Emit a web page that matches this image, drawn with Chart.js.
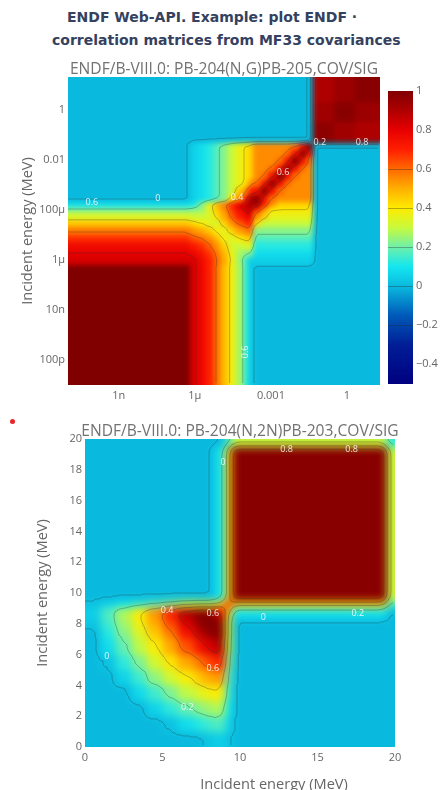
<!DOCTYPE html>
<html lang="en">
<head>
<meta charset="UTF-8">
<title>ENDF Web-API correlation matrices</title>
<style>
  body { margin: 0; background: #fff; font-family: "Open Sans", sans-serif; }
  .page { position: relative; width: 444px; height: 790px; overflow: hidden; }
  .head { position: absolute; font-family: "DejaVu Sans", sans-serif; font-weight: bold; font-size: 14px; line-height: 18px; color: #34415f; white-space: nowrap; }
  .sub { position: absolute; font-size: 15.6px; line-height: 18px; color: #727272; white-space: nowrap; text-align: center; width: 360px; }
  .axt { position: absolute; font-size: 14.6px; line-height: 18px; color: #666; white-space: nowrap; text-align: center; }
  canvas { position: absolute; left: 0; }
  .dot { position: absolute; left: 10px; top: 419px; width: 5px; height: 5px; border-radius: 50%; background: #e8262a; }
</style>
</head>
<body>
<div class="page">
  <div class="head" style="left:67px; top:8px">ENDF Web-API. Example: plot ENDF ·</div>
  <div class="head" style="left:52px; top:31px">correlation matrices from MF33 covariances</div>
  <canvas id="ng" width="444" height="365" style="top:55px"></canvas>
  <canvas id="n2n" width="444" height="370" style="top:420px"></canvas>
  <div class="sub" style="left:44px; top:59px">ENDF/B-VIII.0: PB-204(N,G)PB-205,COV/SIG</div>
  <div class="sub" style="left:60px; top:421px">ENDF/B-VIII.0: PB-204(N,2N)PB-203,COV/SIG</div>
  <div class="axt" style="left:174px; width:200px; top:774px">Incident energy (MeV)</div>
  <div class="dot"></div>
</div>

<script src="https://cdn.jsdelivr.net/npm/chart.js"></script>
<script>
// ---- PB-204(N,G): group boundaries (MeV) and correlation matrix (row = y group, col = x group)
const ngEdges = [1e-11, 1e-10, 1e-9, 1e-8, 4e-8, 1e-7, 2.5e-7, 6.3e-7, 1.26e-6, 2.5e-6, 5e-6, 1e-5, 2e-5, 4e-5,
  7.9e-5, 1.26e-4, 2e-4, 4e-4, 7.9e-4, 1.6e-3, 3.2e-3, 6.3e-3, 1.26e-2, 2.5e-2, 4.7e-2, 0.32, 2, 20];
const ngCorr = [
  [1,1,1,1,1,1,1,.82,.78,.7,.6,.48,.38,.27,.14,.04,0,0,0,0,0,0,0,0,0,0,0],
  [1,1,1,1,1,1,1,.82,.78,.7,.6,.48,.38,.27,.14,.04,0,0,0,0,0,0,0,0,0,0,0],
  [1,1,1,1,1,1,1,.82,.78,.7,.6,.48,.38,.27,.14,.04,0,0,0,0,0,0,0,0,0,0,0],
  [1,1,1,1,1,1,1,.82,.78,.7,.6,.48,.38,.27,.14,.04,0,0,0,0,0,0,0,0,0,0,0],
  [1,1,1,1,1,1,1,.82,.78,.7,.6,.48,.38,.27,.14,.04,0,0,0,0,0,0,0,0,0,0,0],
  [1,1,1,1,1,1,1,.82,.78,.7,.6,.48,.38,.27,.14,.04,0,0,0,0,0,0,0,0,0,0,0],
  [1,1,1,1,1,1,1,.82,.78,.7,.6,.48,.38,.27,.14,.04,0,0,0,0,0,0,0,0,0,0,0],
  [.83,.83,.83,.83,.83,.83,.83,.82,.77,.7,.61,.51,.39,.26,.14,.04,.05,.05,.05,.05,.05,.05,.05,.05,0,0,0],
  [.8,.8,.8,.8,.8,.8,.8,.78,.74,.67,.59,.49,.37,.27,.22,.22,.08,.08,.08,.08,.08,.08,.08,.08,0,0,0],
  [.76,.76,.76,.76,.76,.76,.76,.72,.68,.62,.54,.45,.33,.3,.33,.35,.12,.12,.12,.12,.12,.12,.12,.12,0,0,0],
  [.68,.68,.68,.68,.68,.68,.68,.63,.6,.55,.48,.38,.33,.4,.44,.46,.17,.17,.17,.17,.17,.17,.17,.17,0,0,0],
  [.58,.58,.58,.58,.58,.58,.58,.54,.51,.46,.39,.35,.44,.52,.56,.59,.23,.23,.23,.23,.23,.23,.23,.23,0,0,0],
  [.46,.46,.46,.46,.46,.46,.46,.43,.4,.35,.32,.44,.54,.62,.68,.7,.42,.3,.3,.3,.3,.3,.3,.3,0,0,0],
  [.33,.33,.33,.33,.33,.33,.33,.31,.3,.33,.42,.51,.62,.71,.77,.81,.55,.45,.36,.36,.36,.36,.36,.36,0,0,0],
  [.2,.2,.2,.2,.2,.2,.2,.22,.24,.34,.46,.55,.67,.77,.84,.88,.72,.55,.41,.41,.41,.41,.41,.41,0,0,0],
  [.08,.08,.08,.08,.08,.08,.08,.1,.22,.36,.48,.57,.69,.8,.87,.92,.92,.7,.55,.44,.44,.44,.44,.44,0,0,0],
  [0,0,0,0,0,0,0,.05,.08,.12,.17,.23,.42,.55,.72,.92,.97,.75,.6,.55,.55,.55,.55,.55,0,0,0],
  [0,0,0,0,0,0,0,.05,.08,.12,.17,.23,.3,.45,.55,.7,.75,.97,.75,.6,.55,.55,.55,.55,0,0,0],
  [0,0,0,0,0,0,0,.05,.08,.12,.17,.23,.3,.36,.41,.55,.6,.75,.97,.75,.6,.55,.55,.55,0,0,0],
  [0,0,0,0,0,0,0,.05,.08,.12,.17,.23,.3,.36,.41,.44,.55,.6,.75,.97,.75,.6,.55,.55,0,0,0],
  [0,0,0,0,0,0,0,.05,.08,.12,.17,.23,.3,.36,.41,.44,.55,.55,.6,.75,.97,.75,.6,.55,0,0,0],
  [0,0,0,0,0,0,0,.05,.08,.12,.17,.23,.3,.36,.41,.44,.55,.55,.55,.6,.75,.97,.75,.6,0,0,0],
  [0,0,0,0,0,0,0,.05,.08,.12,.17,.23,.3,.36,.41,.44,.55,.55,.55,.55,.6,.75,.97,.75,0,0,0],
  [0,0,0,0,0,0,0,.05,.08,.12,.17,.23,.3,.36,.41,.44,.55,.55,.55,.55,.55,.6,.75,.97,0,0,0],
  [0,0,0,0,0,0,0,0,0,0,0,0,0,0,0,0,0,0,0,0,0,0,0,0,.97,.93,.9],
  [0,0,0,0,0,0,0,0,0,0,0,0,0,0,0,0,0,0,0,0,0,0,0,0,.93,.98,.94],
  [0,0,0,0,0,0,0,0,0,0,0,0,0,0,0,0,0,0,0,0,0,0,0,0,.9,.94,.98]
];
const ngXTicks = [1e-9, 1e-6, 1e-3, 1];
const ngXTickText = ['1n', '1μ', '0.001', '1'];
const ngYTicks = [1e-10, 1e-8, 1e-6, 1e-4, 1e-2, 1];
const ngYTickText = ['100p', '10n', '1μ', '100μ', '0.01', '1'];
// contour labels seen on the plot
const ngLabelText = ['0.6', '0', '0.4', '0.6', '0.2', '0.8', '0.6'];
const ngLabelX = [8.7e-11, 3.5e-8, 4.6e-5, 3e-3, 0.085, 3.9, 9.5e-5];
const ngLabelY = [1.9e-4, 2.7e-4, 3e-4, 3.2e-3, 0.047, 0.047, 2.1e-10];
const ngLabelRot = [0, 0, 0, 0, 0, 0, 1];

// ---- PB-204(N,2N): group boundaries (MeV) and correlation matrix
const n2nEdges = [0, 1, 2, 3, 4, 5, 6, 7, 7.7, 8.4, 9.0, 9.5, 10.2, 12, 14, 16, 18, 18.8, 19.5, 20];
const n2nCorr = [
  [0,0,0,0,0,0,0,0,.03,.05,.02,0,0,0,0,0,0,0,0],
  [0,0,0,0,0,.02,.08,.12,.15,.17,.06,0,0,0,0,0,0,0,0],
  [0,0,0,0,.06,.13,.19,.23,.26,.28,.1,0,0,0,0,0,0,0,0],
  [0,0,0,.07,.15,.22,.29,.34,.38,.4,.14,0,0,0,0,0,0,0,0],
  [0,0,.06,.15,.24,.32,.39,.46,.51,.54,.19,0,0,0,0,0,0,0,0],
  [0,.02,.13,.22,.32,.41,.51,.58,.65,.71,.25,0,0,0,0,0,0,0,0],
  [0,.08,.19,.29,.39,.51,.63,.74,.82,.9,.32,0,0,0,0,0,0,0,0],
  [0,.12,.23,.34,.46,.58,.74,.87,.96,.99,.35,0,0,0,0,0,0,0,0],
  [.03,.15,.26,.38,.51,.65,.82,.96,1,.97,.34,0,0,0,0,0,0,0,0],
  [.05,.17,.28,.4,.54,.71,.9,.99,.97,.85,.45,.1,.1,.1,.1,.1,.1,.1,0],
  [.02,.06,.1,.14,.19,.25,.32,.35,.34,.45,.7,.45,.45,.45,.45,.45,.45,.45,.15],
  [0,0,0,0,0,0,0,0,0,.1,.45,.98,.98,.98,.98,.98,.98,.98,.3],
  [0,0,0,0,0,0,0,0,0,.1,.45,.98,.98,.98,.98,.98,.98,.98,.3],
  [0,0,0,0,0,0,0,0,0,.1,.45,.98,.98,.98,.98,.98,.98,.98,.3],
  [0,0,0,0,0,0,0,0,0,.1,.45,.98,.98,.98,.98,.98,.98,.98,.3],
  [0,0,0,0,0,0,0,0,0,.1,.45,.98,.98,.98,.98,.98,.98,.98,.3],
  [0,0,0,0,0,0,0,0,0,.1,.45,.98,.98,.98,.98,.98,.98,.98,.3],
  [0,0,0,0,0,0,0,0,0,.1,.45,.98,.98,.98,.98,.98,.98,.98,.3],
  [0,0,0,0,0,0,0,0,0,0,.15,.3,.3,.3,.3,.3,.3,.3,.12]
];
const n2nLabelText = ['0.8', '0.8', '0.4', '0.6', '0.6', '0.2', '0', '0', '0.2', '0'];
const n2nLabelX = [13, 17.2, 5.3, 8.25, 8.25, 6.6, 1.4, 11.5, 17.6, 8.9];
const n2nLabelY = [19.35, 19.35, 8.9, 8.7, 5.1, 2.6, 5.85, 8.4, 8.7, 18.5];

// colour bar ticks and contour levels
const cbTicks = [-0.4, -0.2, 0, 0.2, 0.4, 0.6, 0.8, 1];
const contourLevels = [0.012, 0.2, 0.4, 0.6, 0.8];

// jet-like colour scale used by the plots
const colorStops = [[-0.5,[0,0,128]],[-0.3,[0,30,150]],[-0.15,[0,90,185]],[0,[10,186,222]],[0.1,[20,230,240]],
  [0.2,[110,240,170]],[0.3,[200,250,60]],[0.4,[255,235,0]],[0.5,[255,175,0]],[0.6,[255,105,0]],
  [0.7,[255,30,0]],[0.8,[230,0,0]],[0.9,[175,0,0]],[1,[128,0,0]]];

function colorFor(v) {
  if (v <= colorStops[0][0]) return 'rgb(' + colorStops[0][1].join(',') + ')';
  for (let k = 1; k < colorStops.length; k++) {
    const [v1, c1] = colorStops[k];
    if (v <= v1) {
      const [v0, c0] = colorStops[k - 1];
      const f = (v - v0) / (v1 - v0);
      return 'rgb(' + c0.map((c, n) => Math.round(c + (c1[n] - c) * f)).join(',') + ')';
    }
  }
  return 'rgb(128,0,0)';
}

function buildCells(edges, corr) {
  const cells = [];
  corr.forEach((row, j) => row.forEach((v, i) => {
    cells.push({ x: edges[i], y: edges[j], x0: edges[i], x1: edges[i + 1], y0: edges[j], y1: edges[j + 1], v: v });
  }));
  return cells;
}

// marching squares over the softened value field
function drawContours(ctx, vals, w, h, ox, oy, step) {
  ctx.beginPath();
  contourLevels.forEach(L => {
    for (let y = 0; y + step < h; y += step) {
      for (let x = 0; x + step < w; x += step) {
        const a = vals[y * w + x], b = vals[y * w + x + step];
        const c = vals[(y + step) * w + x + step], d = vals[(y + step) * w + x];
        const e = [];
        if ((a > L) !== (b > L)) e.push([x + step * (L - a) / (b - a), y]);
        if ((b > L) !== (c > L)) e.push([x + step, y + step * (L - b) / (c - b)]);
        if ((d > L) !== (c > L)) e.push([x + step * (L - d) / (c - d), y + step]);
        if ((a > L) !== (d > L)) e.push([x, y + step * (L - a) / (d - a)]);
        for (let k = 0; k + 1 < e.length; k += 2) {
          ctx.moveTo(ox + e[k][0], oy + e[k][1]);
          ctx.lineTo(ox + e[k + 1][0], oy + e[k + 1][1]);
        }
      }
    }
  });
  ctx.stroke();
}

// draws the matrix cells through the x/y scales, softened like the contour plot
const heatmap = {
  id: 'heatmap',
  beforeDatasetsDraw(chart, args, opts) {
    const { ctx, chartArea: a, scales: { x, y } } = chart;
    const mk = () => { const c = document.createElement('canvas'); c.width = chart.width; c.height = chart.height; return c; };
    const off = mk(), enc = mk(), soft = mk();
    const oc = off.getContext('2d'), ec = enc.getContext('2d'), sc = soft.getContext('2d');
    const grow = 16;
    chart.data.datasets[0].data.forEach(c => {
      let l = Math.round(x.getPixelForValue(c.x0)), r = Math.round(x.getPixelForValue(c.x1));
      let t = Math.round(y.getPixelForValue(c.y1)), b = Math.round(y.getPixelForValue(c.y0));
      if (l <= a.left + 1) l -= grow;
      if (r >= a.right - 1) r += grow;
      if (t <= a.top + 1) t -= grow;
      if (b >= a.bottom - 1) b += grow;
      oc.fillStyle = colorFor(c.v);
      oc.fillRect(l, t, r - l, b - t);
      ec.fillStyle = 'rgb(' + Math.round((c.v + 0.5) / 1.5 * 255) + ',0,0)';
      ec.fillRect(l, t, r - l, b - t);
    });
    ctx.save();
    ctx.beginPath();
    ctx.rect(a.left, a.top, a.right - a.left, a.bottom - a.top);
    ctx.clip();
    ctx.filter = 'blur(' + opts.blur + 'px)';
    ctx.drawImage(off, 0, 0);
    ctx.filter = 'none';

    // value field with the same softening, for the contour lines
    sc.filter = 'blur(' + opts.blur + 'px)';
    sc.drawImage(enc, 0, 0);
    const L = Math.round(a.left), T = Math.round(a.top);
    const w = Math.round(a.right) - L, h = Math.round(a.bottom) - T;
    const px = sc.getImageData(L, T, w, h).data;
    const vals = new Float32Array(w * h);
    for (let k = 0; k < w * h; k++) vals[k] = px[k * 4] / 255 * 1.5 - 0.5;
    ctx.strokeStyle = 'rgba(35,45,45,0.3)';
    ctx.lineWidth = 1;
    drawContours(ctx, vals, w, h, L, T, 2);

    ctx.fillStyle = 'rgba(255,255,255,0.85)';
    ctx.font = '9px "Open Sans"';
    ctx.textAlign = 'center';
    ctx.textBaseline = 'middle';
    opts.labels.text.forEach((t, i) => {
      const lx = x.getPixelForValue(opts.labels.x[i]);
      const ly = y.getPixelForValue(opts.labels.y[i]);
      ctx.save();
      ctx.translate(lx, ly);
      if (opts.labels.rot && opts.labels.rot[i]) ctx.rotate(-Math.PI / 2);
      ctx.fillText(t, 0, 0);
      ctx.restore();
    });
    ctx.restore();
  },
  afterDraw(chart, args, opts) {
    const cb = chart.scales.cb;
    if (!cb) return;
    const ctx = chart.ctx;
    const top = Math.round(cb.getPixelForValue(1)), bottom = Math.round(cb.getPixelForValue(-0.5));
    const left = chart.chartArea.right + 8, w = 25;
    for (let py = top; py < bottom; py++) {
      ctx.fillStyle = colorFor(cb.getValueForPixel(py + 0.5));
      ctx.fillRect(left, py, w, 1);
    }
    ctx.strokeStyle = 'rgba(40,40,40,0.35)';
    ctx.lineWidth = 1;
    [-0.2, 0, 0.2, 0.4, 0.6].forEach(v => {
      const py = Math.round(cb.getPixelForValue(v)) + 0.5;
      ctx.beginPath();
      ctx.moveTo(left, py);
      ctx.lineTo(left + w, py);
      ctx.stroke();
    });
  }
};

Chart.defaults.font.family = '"Open Sans", sans-serif';
Chart.defaults.color = '#666';

const noGrid = { display: false, drawTicks: false };

new Chart(document.getElementById('ng'), {
  type: 'scatter',
  data: { datasets: [{ data: buildCells(ngEdges, ngCorr), pointRadius: 0 }] },
  options: {
    responsive: false,
    animation: false,
    layout: { padding: { top: 22, left: 0, right: 0, bottom: 0 } },
    plugins: {
      legend: { display: false },
      tooltip: { enabled: false },
      heatmap: { blur: 2.5, labels: { text: ngLabelText, x: ngLabelX, y: ngLabelY, rot: ngLabelRot } }
    },
    scales: {
      x: {
        type: 'logarithmic', min: 1e-11, max: 20,
        grid: noGrid, border: { display: false },
        afterBuildTicks: s => { s.ticks = ngXTicks.map(v => ({ value: v })); },
        ticks: { autoSkip: false, maxRotation: 0, padding: 4, font: { size: 11 }, callback: (v, i) => ngXTickText[i] },
        afterFit: s => { s.height = 35; }
      },
      y: {
        type: 'logarithmic', min: 1e-11, max: 20,
        grid: noGrid, border: { display: false },
        afterBuildTicks: s => { s.ticks = ngYTicks.map(v => ({ value: v })); },
        ticks: { autoSkip: false, padding: 3, font: { size: 11 }, callback: (v, i) => ngYTickText[i] },
        title: { display: true, text: 'Incident energy (MeV)', font: { size: 14.6 }, padding: { top: 19, bottom: 0 } },
        afterFit: s => { s.width = 68; }
      },
      cb: {
        type: 'linear', axis: 'y', position: 'right', min: -0.507, max: 1.072,
        grid: { display: false, drawTicks: true, tickLength: 33 }, border: { display: false },
        afterBuildTicks: s => { s.ticks = cbTicks.map(v => ({ value: v })); },
        ticks: { padding: 3, font: { size: 11 }, callback: v => (v < 0 ? '−' + Math.abs(v) : String(v)) },
        afterFit: s => { s.width = 64; }
      }
    }
  },
  plugins: [heatmap]
});

new Chart(document.getElementById('n2n'), {
  type: 'scatter',
  data: { datasets: [{ data: buildCells(n2nEdges, n2nCorr), pointRadius: 0 }] },
  options: {
    responsive: false,
    animation: false,
    layout: { padding: { top: 19, left: 0, right: 49, bottom: 0 } },
    plugins: {
      legend: { display: false },
      tooltip: { enabled: false },
      heatmap: { blur: 4, labels: { text: n2nLabelText, x: n2nLabelX, y: n2nLabelY } }
    },
    scales: {
      x: {
        type: 'linear', min: 0, max: 20,
        grid: noGrid, border: { display: false },
        ticks: { stepSize: 5, maxRotation: 0, padding: 4, font: { size: 11 } },
        afterFit: s => { s.height = 43; }
      },
      y: {
        type: 'linear', min: 0, max: 20,
        grid: noGrid, border: { display: false },
        ticks: { stepSize: 2, padding: 3, font: { size: 11 } },
        title: { display: true, text: 'Incident energy (MeV)', font: { size: 14.6 }, padding: { top: 34, bottom: 0 } },
        afterFit: s => { s.width = 85; }
      }
    }
  },
  plugins: [heatmap]
});
</script>
</body>
</html>
